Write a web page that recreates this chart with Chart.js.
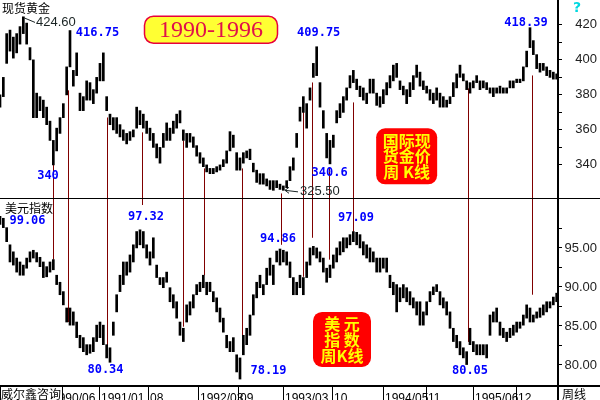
<!DOCTYPE html>
<html>
<head>
<meta charset="utf-8">
<script src="https://cdn.jsdelivr.net/npm/chart.js@4/dist/chart.umd.min.js"></script>
<style>
html, body { margin: 0; padding: 0; background: #fff; }
</style>
</head>
<body>
<canvas id="chart_gold" width="600" height="400"></canvas>
<script>
// one bar every two weeks, Nov 1989 .. Jun 1996
let goldHigh = [380, 390, 415, 417, 413, 415, 419, 424.6, 421, 407,
    400, 381, 379, 377, 373, 365, 354, 361, 367, 375,
    396, 416.75, 394, 404, 381, 379, 388, 387, 383, 390,
    398, 404, 379, 369, 367, 367, 363, 360, 358, 359,
    360, 373, 371, 369, 365, 361, 358, 352, 350, 358,
    364, 361, 365, 369, 371, 360, 358, 358, 356, 351,
    347, 344, 340, 338, 338, 339, 340, 343, 348, 359,
    357, 347, 344, 347, 348, 349, 341, 337, 335, 335,
    332, 331, 331, 331, 329, 328, 331, 339, 344, 358,
    373, 379, 375, 384, 398, 407.5, 387, 371, 358, 354,
    357, 371, 375, 379, 384, 391, 394, 389, 385, 384,
    381, 389, 389, 381, 379, 383, 387, 391, 397, 398,
    388, 385, 383, 387, 391, 397, 393, 388, 385, 383,
    381, 384, 381, 379, 377, 379, 387, 392, 397, 392,
    388, 387, 388, 391, 388, 388, 387, 384, 384, 384,
    385, 384, 384, 388, 388, 389, 389, 396, 405, 418.39,
    411, 403, 398, 398, 396, 394, 393, 392];
let goldLow = [373, 379, 398, 405, 401, 404, 409, 415, 409, 400,
    367, 367, 371, 367, 363, 354, 340, 348, 358, 367,
    380, 396, 385, 391, 371, 371, 377, 377, 375, 381,
    388, 388, 371, 363, 360, 358, 356, 354, 352, 354,
    356, 361, 363, 361, 358, 354, 350, 344, 341, 350,
    354, 354, 358, 361, 364, 354, 350, 353, 350, 345,
    341, 339, 336, 335, 335, 336, 337, 339, 341, 348,
    350, 337, 337, 341, 344, 343, 336, 330, 329, 329,
    328, 326, 325.5, 327, 326, 325.5, 327, 331, 337, 350,
    365, 370, 361, 377, 390, 391, 373, 361, 344, 340.6,
    350, 364, 367, 370, 377, 384, 387, 383, 379, 377,
    375, 381, 381, 374, 373, 375, 380, 384, 388, 390,
    383, 380, 375, 379, 383, 390, 385, 383, 381, 377,
    375, 377, 373, 373, 373, 375, 379, 384, 390, 388,
    383, 381, 384, 387, 383, 384, 383, 381, 379, 381,
    381, 381, 381, 384, 384, 387, 387, 388, 396, 407,
    403, 395, 393, 394, 391, 390, 389, 389];

let usdHigh = [99.06, 98.8, 97.6, 95.4, 94.5, 93.7, 93.2, 92.8, 93.7, 94.5,
    94.7, 94.4, 93.8, 93.2, 92.6, 93.2, 93.5, 91.5, 90.6, 89.4,
    87.3, 87.3, 86.8, 85.5, 83.8, 83.5, 82.6, 82.6, 83.5, 85.1,
    85.5, 85.1, 82.6, 82.2, 85.5, 89.0, 91.5, 93.2, 93.2, 94.1,
    95.4, 97.1, 97.32, 97.1, 95.4, 94.5, 96.3, 92.8, 91.2, 91.2,
    91.9, 89.9, 89.0, 88.1, 85.5, 84.7, 87.7, 88.1, 89.0, 90.3,
    90.6, 91.5, 90.6, 90.6, 89.4, 88.6, 87.3, 86.0, 83.8, 83.0,
    83.5, 81.3, 80.9, 83.8, 84.7, 86.4, 89.0, 90.6, 91.5, 90.3,
    92.4, 93.7, 92.8, 94.6, 94.86, 94.7, 94.5, 93.2, 91.2, 90.6,
    91.5, 91.2, 93.2, 95.0, 95.2, 95.0, 94.5, 93.7, 92.4, 92.8,
    94.1, 95.0, 95.8, 96.3, 96.3, 96.7, 97.09, 97.0, 96.7, 95.8,
    95.4, 95.0, 94.5, 93.7, 93.7, 93.7, 93.7, 91.5, 90.6, 90.3,
    89.9, 90.3, 89.9, 89.4, 88.6, 88.1, 88.1, 86.8, 88.1, 89.4,
    90.0, 90.3, 89.4, 88.6, 88.1, 86.8, 84.7, 83.8, 83.0, 82.2,
    81.7, 84.7, 83.0, 82.6, 82.6, 82.6, 82.6, 86.4, 86.8, 87.3,
    85.5, 84.7, 84.2, 84.7, 85.1, 85.5, 85.5, 86.4, 87.7, 87.3,
    86.4, 86.8, 87.3, 87.7, 88.1, 88.1, 88.7, 89.2];
let usdLow = [98.0, 97.6, 95.8, 93.2, 92.8, 91.9, 91.5, 91.5, 92.4, 93.2,
    93.7, 93.2, 92.6, 91.2, 91.3, 91.9, 92.2, 90.3, 89.0, 87.7,
    85.5, 85.1, 85.1, 83.5, 82.2, 81.7, 81.3, 81.5, 81.7, 83.0,
    83.5, 82.6, 80.9, 80.34, 83.8, 86.8, 89.4, 90.3, 91.5, 91.9,
    93.2, 95.0, 95.4, 95.0, 93.7, 92.8, 93.7, 91.2, 90.3, 89.9,
    90.6, 88.1, 87.3, 86.0, 83.8, 83.0, 85.5, 86.4, 87.3, 89.0,
    89.4, 89.9, 89.0, 89.4, 88.1, 86.8, 85.5, 84.2, 82.2, 81.7,
    81.7, 79.1, 78.19, 81.3, 82.6, 83.8, 86.4, 88.6, 89.9, 89.0,
    90.3, 91.5, 90.3, 93.2, 92.8, 93.2, 92.8, 91.2, 89.0, 89.0,
    89.9, 89.0, 91.2, 92.8, 94.1, 93.7, 93.2, 91.9, 90.6, 91.2,
    92.4, 93.2, 94.1, 94.5, 95.0, 95.4, 95.8, 95.4, 95.0, 94.1,
    93.7, 93.2, 93.2, 91.9, 91.9, 92.4, 91.9, 89.9, 89.0, 86.8,
    88.1, 88.6, 88.1, 87.7, 87.3, 86.4, 85.1, 85.1, 86.4, 88.1,
    89.0, 89.4, 87.7, 87.3, 86.4, 84.7, 83.0, 82.2, 81.3, 80.9,
    80.05, 82.6, 81.7, 81.3, 81.3, 81.3, 80.9, 83.8, 85.5, 85.5,
    83.8, 83.5, 83.0, 83.5, 83.8, 84.2, 84.7, 85.1, 86.0, 85.5,
    85.5, 86.0, 86.1, 86.4, 86.8, 87.3, 87.7, 88.1];

// date labels along the bottom, placed at bar index
let tickPos = [15, 29.7, 44.4, 59.4, 71.4, 84.9, 99.6, 114.9, 127.8, 141.9, 154.8];
let tickLabels = ['1990/06', '1991/01', '08', '1992/03', '09', '1993/03', '10', '1994/05', '11', '1995/06', '12'];

// turning points joined across both panels: bar index, gold value, dollar value
let linkBar = [16, 20.5, 32, 42.5, 55, 61.2, 72.5, 84.3, 90.8, 93.7, 98.8, 106, 140.3, 159.5];
let linkGold = [340.9, 382.6, 367.1, 358.6, 354, 338, 338, 323.7, 372.9, 387.1, 338.6, 375.7, 383.7, 391.1];
let linkUsd = [93.5, 85.5, 81.7, 100.5, 84.9, 91.5, 81.3, 95.4, 91.3, 96.3, 93.5, 97.05, 82.95, 89.0];

// highs and lows written on the chart: text, bar index, value
let goldNotes = [['416.75', 29.25, 415.7], ['340', 14.4, 334], ['409.75', 95.6, 415.7],
    ['340.6', 98.9, 335.7], ['418.39', 157.8, 421.4]];
let usdNotes = [['99.06', 8.25, 98.46], ['97.32', 43.8, 98.97], ['80.34', 31.65, 79.36],
    ['78.19', 80.55, 79.23], ['94.86', 83.4, 96.15], ['97.09', 106.8, 98.85], ['80.05', 141, 79.23]];

function toBars(hi, lo) {
    return hi.map((h, i) => ({x: i, y: [lo[i], h]}));
}

function roundBox(ctx, cx, cy, w, h, r) {
    let x = cx - w / 2, y = cy - h / 2;
    ctx.beginPath();
    ctx.moveTo(x + r, y);
    ctx.arcTo(x + w, y, x + w, y + h, r);
    ctx.arcTo(x + w, y + h, x, y + h, r);
    ctx.arcTo(x, y + h, x, y, r);
    ctx.arcTo(x, y, x + w, y, r);
    ctx.closePath();
}

// keep only the round tick values, drop the range ends
function roundTicks(step) {
    return s => { s.ticks = s.ticks.filter(t => Math.abs(t.value / step - Math.round(t.value / step)) < 1e-6); };
}

let overlay = {
    id: 'overlay',
    beforeDatasetsDraw(chart) {
        let ctx = chart.ctx, x = chart.scales.x, gold = chart.scales.gold, usd = chart.scales.usd;
        ctx.save();
        ctx.strokeStyle = '#800000';
        ctx.lineWidth = 1;
        linkBar.forEach((b, k) => {
            let px = Math.round(x.getPixelForValue(b)) + 0.5;
            ctx.beginPath();
            ctx.moveTo(px, gold.getPixelForValue(linkGold[k]));
            ctx.lineTo(px, usd.getPixelForValue(linkUsd[k]));
            ctx.stroke();
        });
        ctx.restore();
    },
    afterDraw(chart) {
        let ctx = chart.ctx, x = chart.scales.x, gold = chart.scales.gold, usd = chart.scales.usd;
        let W = chart.width, H = chart.height;
        ctx.save();

        // frame
        ctx.strokeStyle = '#000';
        ctx.lineWidth = 1;
        ctx.beginPath();
        ctx.moveTo(0, Math.round(gold.bottom) + 0.5);
        ctx.lineTo(W, Math.round(gold.bottom) + 0.5);
        ctx.stroke();
        ctx.lineWidth = 2;
        ctx.beginPath();
        ctx.moveTo(0, x.top);
        ctx.lineTo(W, x.top);
        ctx.moveTo(gold.left, 0);
        ctx.lineTo(gold.left, H);
        ctx.stroke();
        ctx.lineWidth = 1;
        x.ticks.forEach(t => {
            let px = Math.round(x.getPixelForValue(t.value)) + 0.5;
            ctx.beginPath();
            ctx.moveTo(px, x.top);
            ctx.lineTo(px, H);
            ctx.stroke();
        });

        // bottom-left logo box
        ctx.fillStyle = '#fff';
        ctx.fillRect(0, x.top + 1, 62, H - x.top);
        ctx.strokeRect(0.5, x.top + 0.5, 62, H - x.top);
        ctx.fillStyle = '#000';
        ctx.font = '12px "Noto Sans CJK SC"';
        ctx.textAlign = 'left';
        ctx.textBaseline = 'middle';
        ctx.fillText('威尔鑫咨询', 1, (x.top + H) / 2 + 1);
        ctx.fillText('周线', gold.left + 4, (x.top + H) / 2 + 1);

        // panel names
        ctx.fillText('现货黄金', x.getPixelForValue(0.6), gold.getPixelForValue(429.4));
        ctx.fillText('美元指数', x.getPixelForValue(1.5), usd.getPixelForValue(100.0));

        // extreme values with leader lines
        ctx.fillStyle = '#1a2424';
        ctx.font = '13px "Liberation Sans"';
        let tx = x.getPixelForValue(10.8), ty = gold.getPixelForValue(421.4);
        ctx.fillText('424.60', tx, ty);
        ctx.strokeStyle = '#1a2424';
        ctx.beginPath();
        ctx.moveTo(x.getPixelForValue(7.2), gold.getPixelForValue(424.6) + 1);
        ctx.lineTo(tx - 1, ty);
        ctx.stroke();
        tx = x.getPixelForValue(90);
        ty = gold.getPixelForValue(324.6);
        ctx.fillText('325.50', tx, ty);
        let ax = x.getPixelForValue(85.5), ay = gold.getPixelForValue(325.5);
        ctx.beginPath();
        ctx.moveTo(tx - 2, ty);
        ctx.lineTo(ax, ay);
        ctx.moveTo(ax + 4, ay - 3);
        ctx.lineTo(ax, ay);
        ctx.lineTo(ax + 4, ay + 3);
        ctx.stroke();

        // blue price notes
        ctx.fillStyle = '#0000ff';
        ctx.font = 'bold 12px "DejaVu Sans Mono"';
        ctx.textAlign = 'center';
        goldNotes.forEach(n => ctx.fillText(n[0], x.getPixelForValue(n[1]), gold.getPixelForValue(n[2])));
        usdNotes.forEach(n => ctx.fillText(n[0], x.getPixelForValue(n[1]), usd.getPixelForValue(n[2])));

        // title
        let cx = x.getPixelForValue(63.3), cy = gold.getPixelForValue(417.2);
        roundBox(ctx, cx, cy, 133, 27, 9);
        ctx.fillStyle = '#ffff33';
        ctx.fill();
        ctx.strokeStyle = '#e8003c';
        ctx.lineWidth = 1.5;
        ctx.stroke();
        ctx.fillStyle = '#e0104a';
        ctx.font = '24px "Liberation Serif"';
        ctx.fillText('1990-1996', cx, cy + 1);

        // red tags
        ctx.font = 'bold 16px "Noto Sans CJK SC"';
        cx = x.getPixelForValue(122);
        cy = gold.getPixelForValue(344.9);
        roundBox(ctx, cx, cy, 61, 56, 9);
        ctx.fillStyle = '#ff0000';
        ctx.fill();
        ctx.fillStyle = '#ffff00';
        ['国际现', '货金价', '周 K线'].forEach((s, k) => ctx.fillText(s, cx, cy + (k - 1) * 15.5));
        cx = x.getPixelForValue(102.6);
        cy = usd.getPixelForValue(83.27);
        roundBox(ctx, cx, cy, 58, 55, 9);
        ctx.fillStyle = '#ff0000';
        ctx.fill();
        ctx.fillStyle = '#ffff00';
        ['美 元', '指 数', '周K线'].forEach((s, k) => ctx.fillText(s, cx, cy + (k - 1) * 16));

        // help mark
        ctx.fillStyle = '#00d8e0';
        ctx.font = 'bold 14px "DejaVu Sans"';
        ctx.fillText('?', gold.left + 19, 8);
        ctx.restore();
    }
};

let ctx_gold = document.getElementById('chart_gold');
let chart_gold = new Chart(ctx_gold, {
    type: 'bar',
    data: {
        datasets: [{
            label: '现货黄金',
            data: toBars(goldHigh, goldLow),
            yAxisID: 'gold',
            backgroundColor: '#000',
            barThickness: 2,
            grouped: false
        }, {
            label: '美元指数',
            data: toBars(usdHigh, usdLow),
            yAxisID: 'usd',
            backgroundColor: '#000',
            barThickness: 2,
            grouped: false
        }]
    },
    options: {
        responsive: false,
        animation: false,
        layout: {padding: {right: 3}},
        plugins: {
            legend: {display: false},
            tooltip: {enabled: false}
        },
        scales: {
            x: {
                type: 'linear',
                min: 0,
                max: 167.4,
                offset: false,
                bounds: 'data',
                grid: {display: false},
                border: {display: false},
                afterBuildTicks: s => { s.ticks = tickPos.map(v => ({value: v})); },
                afterFit: s => { s.height = 14; s.paddingLeft = 0; s.paddingRight = 0; },
                ticks: {
                    autoSkip: false,
                    maxRotation: 0,
                    align: 'start',
                    labelOffset: 2,
                    padding: -3,
                    color: '#000',
                    font: {family: 'Liberation Sans', size: 12},
                    callback: (v, i) => tickLabels[i]
                }
            },
            gold: {
                type: 'linear',
                position: 'right',
                stack: 'panes',
                stackWeight: 198,
                min: 321.1,
                max: 434.2,
                grid: {drawOnChartArea: false, tickLength: 4, color: '#000'},
                border: {display: false},
                afterBuildTicks: roundTicks(10),
                afterFit: s => { s.width = 39; s.paddingTop = 0; s.paddingBottom = 0; },
                ticks: {
                    stepSize: 10,
                    autoSkip: false,
                    crossAlign: 'far',
                    color: '#222',
                    font: {family: 'Liberation Sans', size: 13},
                    callback: v => v % 20 === 0 ? String(v) : ''
                }
            },
            usd: {
                type: 'linear',
                position: 'right',
                stack: 'panes',
                stackWeight: 188,
                min: 77.3,
                max: 101.4,
                grid: {drawOnChartArea: false, tickLength: 4, color: '#000'},
                border: {display: false},
                afterBuildTicks: roundTicks(2.5),
                afterFit: s => { s.width = 39; s.paddingTop = 0; s.paddingBottom = 0; },
                ticks: {
                    stepSize: 2.5,
                    autoSkip: false,
                    crossAlign: 'far',
                    color: '#222',
                    font: {family: 'Liberation Sans', size: 13},
                    callback: v => (v % 5 === 0 && v < 100) ? v.toFixed(2) : ''
                }
            }
        }
    },
    plugins: [overlay]
});
</script>
</body>
</html>
